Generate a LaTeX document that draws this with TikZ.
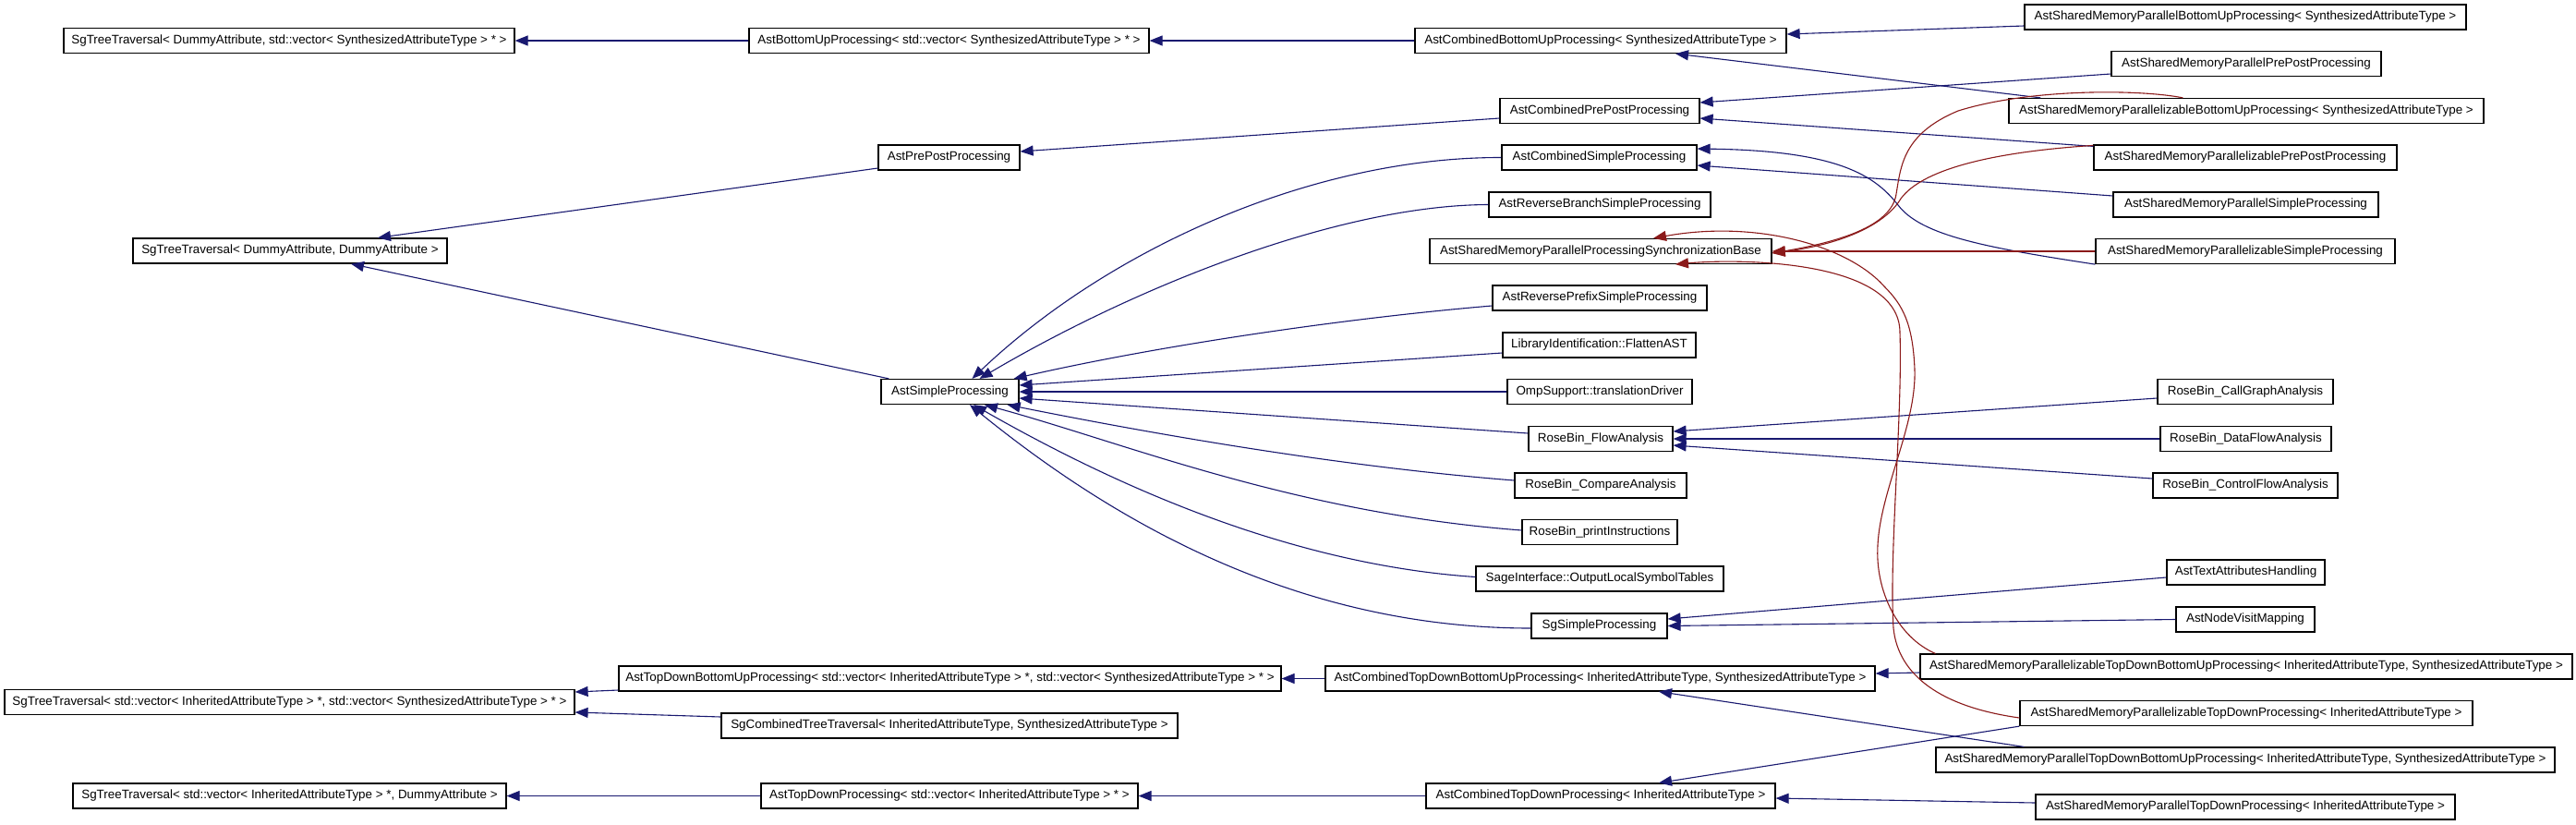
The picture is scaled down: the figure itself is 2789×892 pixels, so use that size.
\documentclass[tikz,border=0pt]{standalone}
\usepackage{fontspec}
\setmainfont{Liberation Sans}
\usetikzlibrary{arrows.meta,calc}
\definecolor{mblue}{HTML}{191970}
\definecolor{fred}{HTML}{8B1A1A}
\begin{document}
\begin{tikzpicture}[x=1pt,y=-1pt,
  font=\fontsize{13.4}{16}\selectfont,
  box/.style={draw=black, line width=1.2pt, minimum height=27pt, inner sep=0pt, fill=white, text=black},
  pub/.style={draw=mblue, line width=1.1pt, -{Triangle[length=14pt,width=11pt]}},
  prot/.style={draw=fred, line width=1.1pt, -{Triangle[length=14pt,width=11pt]}}]
\useasboundingbox[fill=white] (0,0) rectangle (2789,892);

% nodes
\node[box, minimum width=488pt] (stDS) at (313,44) {SgTreeTraversal< DummyAttribute, std::vector< SynthesizedAttributeType > * >};
\node[box, minimum width=340pt] (stDD) at (314,271.5) {SgTreeTraversal< DummyAttribute, DummyAttribute >};
\node[box, minimum width=433pt] (bu) at (1027.5,44) {AstBottomUpProcessing< std::vector< SynthesizedAttributeType > * >};
\node[box, minimum width=402pt] (cbu) at (1733,44) {AstCombinedBottomUpProcessing< SynthesizedAttributeType >};
\node[box, minimum width=478pt] (smpbu) at (2431,18.5) {AstSharedMemoryParallelBottomUpProcessing< SynthesizedAttributeType >};
\node[box, minimum width=292pt] (smpprepost) at (2432,69) {AstSharedMemoryParallelPrePostProcessing};
\node[box, minimum width=514pt] (smpzbu) at (2432,120) {AstSharedMemoryParallelizableBottomUpProcessing< SynthesizedAttributeType >};
\node[box, minimum width=216pt] (cprepost) at (1732,120) {AstCombinedPrePostProcessing};
\node[box, minimum width=153pt] (prepost) at (1027.5,170.5) {AstPrePostProcessing};
\node[box, minimum width=211pt] (csimple) at (1731.5,170.5) {AstCombinedSimpleProcessing};
\node[box, minimum width=328pt] (smpzprepost) at (2431,170.5) {AstSharedMemoryParallelizablePrePostProcessing};
\node[box, minimum width=240pt] (rbranch) at (1732,221.5) {AstReverseBranchSimpleProcessing};
\node[box, minimum width=287pt] (smpsimple) at (2431.5,221.5) {AstSharedMemoryParallelSimpleProcessing};
\node[box, minimum width=370pt] (sync) at (1733,272) {AstSharedMemoryParallelProcessingSynchronizationBase};
\node[box, minimum width=324pt] (smpzsimple) at (2431,272) {AstSharedMemoryParallelizableSimpleProcessing};
\node[box, minimum width=232pt] (rprefix) at (1732,322.5) {AstReversePrefixSimpleProcessing};
\node[box, minimum width=209pt] (flatten) at (1731.5,373.5) {LibraryIdentification::FlattenAST};
\node[box, minimum width=149pt] (simple) at (1028.5,424) {AstSimpleProcessing};
\node[box, minimum width=200pt] (omp) at (1732,424) {OmpSupport::translationDriver};
\node[box, minimum width=190pt] (callgraph) at (2431,424) {RoseBin\_CallGraphAnalysis};
\node[box, minimum width=156pt] (flow) at (1733,475) {RoseBin\_FlowAnalysis};
\node[box, minimum width=185pt] (dataflow) at (2431.5,475) {RoseBin\_DataFlowAnalysis};
\node[box, minimum width=186pt] (compare) at (1733,525.5) {RoseBin\_CompareAnalysis};
\node[box, minimum width=200pt] (ctrlflow) at (2431,525.5) {RoseBin\_ControlFlowAnalysis};
\node[box, minimum width=168pt] (printi) at (1732,576) {RoseBin\_printInstructions};
\node[box, minimum width=268pt] (sage) at (1732,626.5) {SageInterface::OutputLocalSymbolTables};
\node[box, minimum width=147pt] (sgsimple) at (1731.5,677.5) {SgSimpleProcessing};
\node[box, minimum width=171pt] (texth) at (2431.5,619.5) {AstTextAttributesHandling};
\node[box, minimum width=150pt] (nodevisit) at (2431,670.5) {AstNodeVisitMapping};
\node[box, minimum width=617pt] (stVV) at (313.5,760) {SgTreeTraversal< std::vector< InheritedAttributeType > *, std::vector< SynthesizedAttributeType > * >};
\node[box, minimum width=717pt] (tdbu) at (1028.5,734.5) {AstTopDownBottomUpProcessing< std::vector< InheritedAttributeType > *, std::vector< SynthesizedAttributeType > * >};
\node[box, minimum width=595pt] (ctdbu) at (1732.5,734.5) {AstCombinedTopDownBottomUpProcessing< InheritedAttributeType, SynthesizedAttributeType >};
\node[box, minimum width=494pt] (sgcombined) at (1028,785.5) {SgCombinedTreeTraversal< InheritedAttributeType, SynthesizedAttributeType >};
\node[box, minimum width=706pt] (smpztdbu) at (2432,721.5) {AstSharedMemoryParallelizableTopDownBottomUpProcessing< InheritedAttributeType, SynthesizedAttributeType >};
\node[box, minimum width=490pt] (smpztd) at (2432,772) {AstSharedMemoryParallelizableTopDownProcessing< InheritedAttributeType >};
\node[box, minimum width=670pt] (smptdbu) at (2431,822.5) {AstSharedMemoryParallelTopDownBottomUpProcessing< InheritedAttributeType, SynthesizedAttributeType >};
\node[box, minimum width=469pt] (stVD) at (313.5,861.5) {SgTreeTraversal< std::vector< InheritedAttributeType > *, DummyAttribute >};
\node[box, minimum width=408pt] (td) at (1028,861.5) {AstTopDownProcessing< std::vector< InheritedAttributeType > * >};
\node[box, minimum width=378pt] (ctd) at (1733,861.5) {AstCombinedTopDownProcessing< InheritedAttributeType >};
\node[box, minimum width=454pt] (smptd) at (2431,873.5) {AstSharedMemoryParallelTopDownProcessing< InheritedAttributeType >};

% public inheritance
\draw[pub] (bu.west) -- (stDS.east);
\draw[pub] (cbu.west) -- (bu.east);
\draw[pub] ($(smpbu.west)+(0,9.5)$) -- ($(cbu.east)+(0,-7)$);
\draw[pub] ($(smpzbu.north west)+(35,0)$) -- ($(cbu.south)+(81,0)$);
\draw[pub] ($(prepost.west)+(0,11.5)$) -- ($(stDD.north)+(95,0)$);
\draw[pub] ($(simple.north west)+(9,0)$) -- ($(stDD.south)+(66,0)$);
\draw[pub] ($(cprepost.west)+(0,8)$) -- ($(prepost.east)+(0,-6.5)$);
\draw[pub] ($(smpprepost.west)+(0,11)$) -- ($(cprepost.east)+(0,-9)$);
\draw[pub] ($(smpzprepost.north west)+(0,2)$) -- ($(cprepost.east)+(0,8)$);
\draw[pub] ($(smpsimple.west)+(0,-9.5)$) -- ($(csimple.east)+(0,8.5)$);
\draw[pub] (smpzsimple.south west) .. controls (2150,268) and (2080,255) .. (2055,222) .. controls (2030,190) and (1990,163) .. ($(csimple.east)+(0,-9.5)$);

\draw[pub] (csimple.west) .. controls (1420,170) and (1200,270) .. ($(simple.north)+(24,0)$);
\draw[pub] (rbranch.west) .. controls (1450,222) and (1230,310) .. ($(simple.north)+(32,0)$);
\draw[pub] ($(rprefix.west)+(0,8.5)$) .. controls (1450,345) and (1250,375) .. ($(simple.north east)+(-6,0)$);
\draw[pub] ($(flatten.west)+(0,8.5)$) -- ($(simple.east)+(0,-7)$);
\draw[pub] (omp.west) -- (simple.east);
\draw[pub] ($(flow.west)+(0,-6)$) -- ($(simple.east)+(0,7)$);
\draw[pub] ($(compare.west)+(0,-5.5)$) .. controls (1450,505) and (1250,470) .. ($(simple.south east)+(-13,0)$);
\draw[pub] ($(printi.west)+(0,-2)$) .. controls (1400,555) and (1220,480) .. ($(simple.south)+(37.5,0)$);
\draw[pub] ($(sage.west)+(0,-2)$) .. controls (1380,610) and (1180,510) .. ($(simple.south)+(25.5,0)$);
\draw[pub] ($(sgsimple.west)+(0,2.5)$) .. controls (1400,680) and (1200,560) .. ($(simple.south)+(21.5,0)$);

\draw[pub] ($(callgraph.west)+(0,7)$) -- ($(flow.east)+(0,-8)$);
\draw[pub] (dataflow.west) -- (flow.east);
\draw[pub] ($(ctrlflow.west)+(0,-7.5)$) -- ($(flow.east)+(0,7)$);
\draw[pub] ($(texth.west)+(0,5.5)$) -- ($(sgsimple.east)+(0,-7.5)$);
\draw[pub] (nodevisit.west) -- (sgsimple.east);

\draw[pub] ($(tdbu.west)+(0,12.5)$) -- ($(stVV.east)+(0,-11)$);
\draw[pub] ($(sgcombined.west)+(0,-9.5)$) -- ($(stVV.east)+(0,11)$);
\draw[pub] (ctdbu.west) -- (tdbu.east);
\draw[pub] ($(smpztdbu.west)+(0,6.5)$) -- ($(ctdbu.east)+(0,-5.5)$);
\draw[pub] ($(smptdbu.north west)+(96,0)$) -- ($(ctdbu.south)+(63.5,0)$);
\draw[pub] (td.west) -- (stVD.east);
\draw[pub] (ctd.west) -- (td.east);
\draw[pub] (smpztd.south west) -- ($(ctd.north)+(63,0)$);
\draw[pub] ($(smptd.west)+(0,-4.5)$) -- ($(ctd.east)+(0,2.5)$);

% protected inheritance
\draw[prot] (smpzsimple.west) -- (sync.east);
\draw[prot] ($(smpzbu.north west)+(189,0)$) .. controls (2320,97) and (2200,95) .. (2120,120) .. controls (2060,145) and (2058,180) .. (2053,210) .. controls (2048,245) and (1990,262) .. ($(sync.east)+(0,2)$);
\draw[prot] ($(smpzprepost.north west)+(0,1)$) .. controls (2150,165) and (2080,185) .. (2058,215) .. controls (2040,245) and (1990,265) .. ($(sync.east)+(0,2)$);
\draw[prot] ($(smpztdbu.north west)+(17,0)$) .. controls (2055,690) and (2030,640) .. (2033,590) .. controls (2036,530) and (2075,460) .. (2073,400) .. controls (2071,350) and (2060,330) .. (2040,310) .. controls (2000,265) and (1900,238) .. ($(sync.north)+(57,0)$);
\draw[prot] ($(smpztd.west)+(0,5)$) .. controls (2100,765) and (2055,730) .. (2050,680) .. controls (2045,600) and (2060,450) .. (2057,360) .. controls (2057,280) and (1880,280) .. ($(sync.south)+(81,0)$);
\end{tikzpicture}
\end{document}
